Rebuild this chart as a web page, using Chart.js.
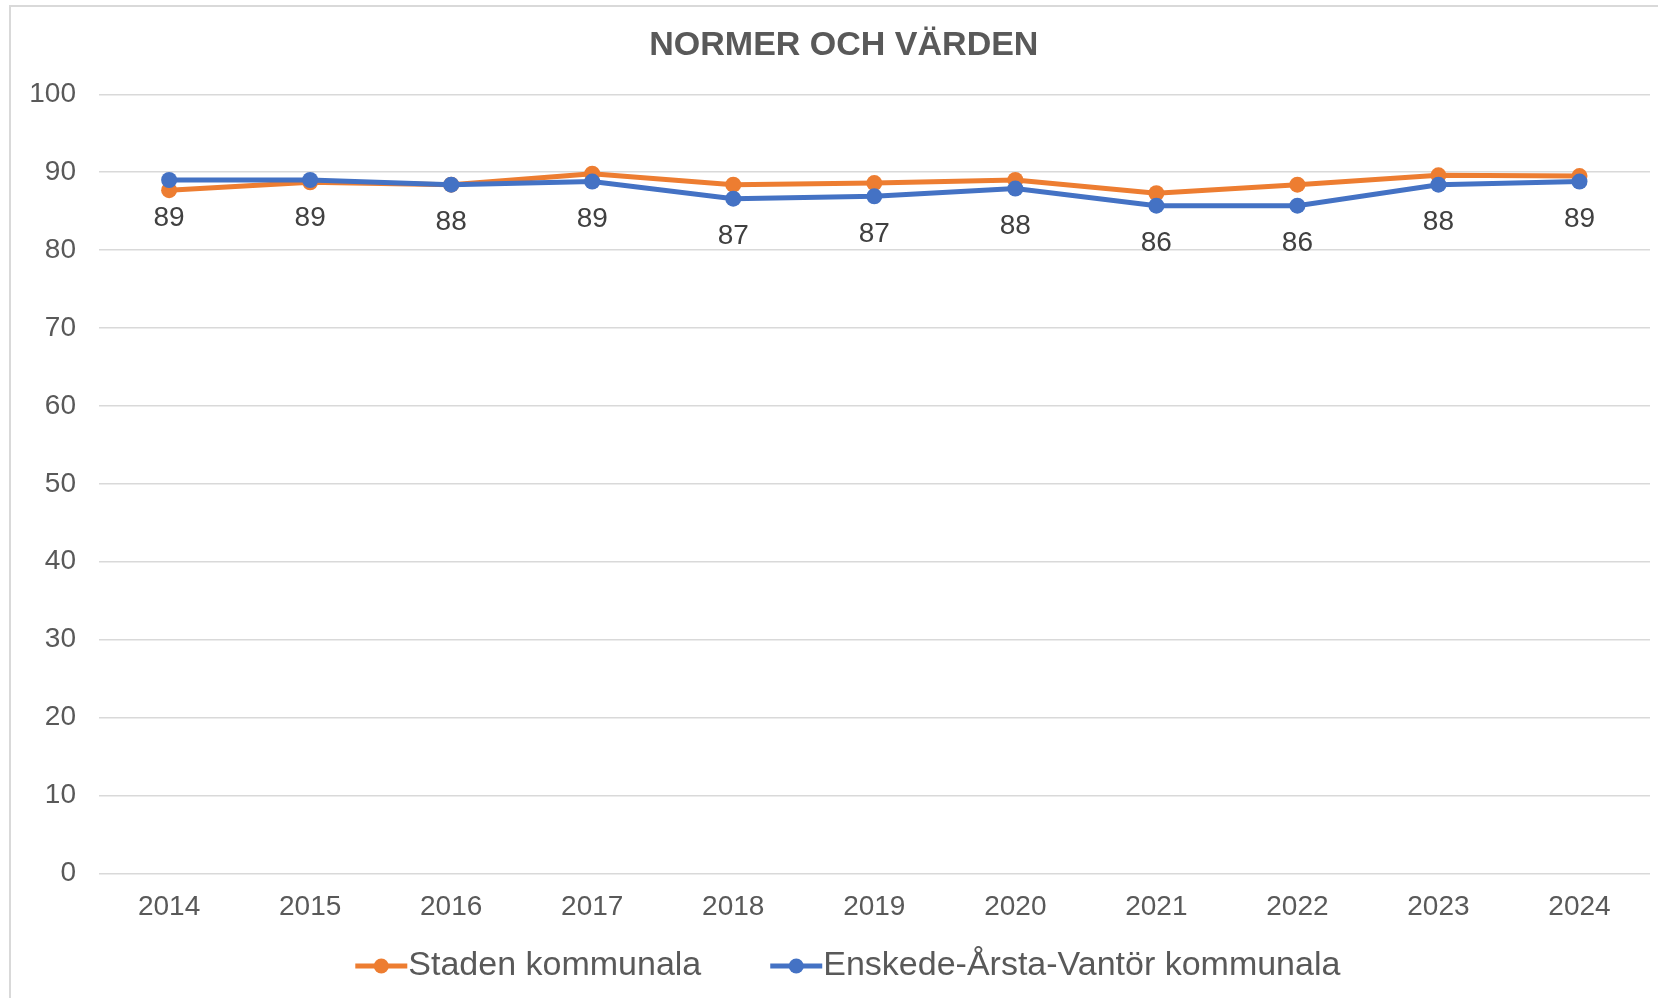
<!DOCTYPE html>
<html lang="sv">
<head>
    <meta charset="UTF-8">
    <title>Normer och värden</title>
    <script src="https://cdn.jsdelivr.net/npm/chart.js"></script>
    <style>
        html, body {
            margin: 0;
            padding: 0;
            width: 1658px;
            height: 998px;
            overflow: hidden;
            background: #fff;
        }

        /* thin grey frame round the chart, right and bottom fall outside the window */
        .frame {
            position: absolute;
            left: 9px;
            top: 5px;
            width: 1700px;
            height: 1100px;
            border: 2px solid #d9d9d9;
        }

        .chart-box {
            position: absolute;
            left: 0;
            top: 0;
            width: 1658px;
            height: 998px;
        }
    </style>
</head>
<body>
    <div class="frame"></div>
    <div class="chart-box">
        <canvas id="normer-chart"></canvas>
    </div>

    <script>
        // Data
        const years = ['2014', '2015', '2016', '2017', '2018', '2019', '2020', '2021', '2022', '2023', '2024'];
        const stadenValues = [87.7, 88.7, 88.4, 89.8, 88.4, 88.6, 89.0, 87.3, 88.4, 89.6, 89.5];
        const evValues = [89.0, 89.0, 88.4, 88.8, 86.6, 86.9, 87.9, 85.7, 85.7, 88.4, 88.8];
        const seriesNames = ['Staden kommunala', 'Enskede-Årsta-Vantör kommunala'];
        const yTicks = [0, 10, 20, 30, 40, 50, 60, 70, 80, 90, 100];

        const ORANGE = '#ED7D31';
        const BLUE = '#4472C4';
        const TEXT = '#595959';
        const FONT = '"Liberation Sans", Arial, sans-serif';

        // Title sits a little right of the canvas centre in the original
        const titleShift = {
            id: 'titleShift',
            afterLayout(chart) {
                chart.titleBlock.left += 8;
                chart.titleBlock.right += 8;
            }
        };

        // Value labels under the blue series (Excel style "below")
        const valueLabels = {
            id: 'valueLabels',
            afterDatasetsDraw(chart) {
                const ctx = chart.ctx;
                const meta = chart.getDatasetMeta(1);
                const data = chart.data.datasets[1].data;
                ctx.save();
                ctx.font = '28px ' + FONT;
                ctx.fillStyle = '#404040';
                ctx.textAlign = 'center';
                ctx.textBaseline = 'middle';
                meta.data.forEach((pt, i) => {
                    ctx.fillText(String(Math.round(data[i])), pt.x, pt.y + 38);
                });
                ctx.restore();
            }
        };

        // Legend with line + dot symbols, drawn under the axis
        const lineLegend = {
            id: 'lineLegend',
            afterDraw(chart) {
                const ctx = chart.ctx;
                const sets = chart.data.datasets;
                const symW = 52, gapText = 1, gapItem = 69;
                ctx.save();
                ctx.font = '34px ' + FONT;
                const widths = sets.map(ds => symW + gapText + ctx.measureText(ds.label).width);
                const total = widths.reduce((a, b) => a + b, 0) + gapItem * (sets.length - 1);
                const center = chart.titleBlock.left + chart.titleBlock.width / 2 + 4;
                const y = 966;
                let x = center - total / 2;
                sets.forEach((ds, i) => {
                    ctx.strokeStyle = ds.borderColor;
                    ctx.lineWidth = 5;
                    ctx.beginPath();
                    ctx.moveTo(x, y);
                    ctx.lineTo(x + symW, y);
                    ctx.stroke();
                    ctx.fillStyle = ds.borderColor;
                    ctx.beginPath();
                    ctx.arc(x + symW / 2, y, 7.5, 0, Math.PI * 2);
                    ctx.fill();
                    ctx.fillStyle = TEXT;
                    ctx.textAlign = 'left';
                    ctx.textBaseline = 'middle';
                    ctx.fillText(ds.label, x + symW + gapText, y);
                    x += widths[i] + gapItem;
                });
                ctx.restore();
            }
        };

        const ctx = document.getElementById('normer-chart').getContext('2d');
        const normerChart = new Chart(ctx, {
            type: 'line',
            data: {
                labels: years,
                datasets: [{
                    label: seriesNames[0],
                    data: stadenValues,
                    borderColor: ORANGE,
                    backgroundColor: ORANGE,
                    pointBackgroundColor: ORANGE,
                    borderWidth: 5,
                    pointRadius: 8,
                    pointBorderWidth: 0,
                    order: 1,
                    fill: false
                },
                {
                    label: seriesNames[1],
                    data: evValues,
                    borderColor: BLUE,
                    backgroundColor: BLUE,
                    pointBackgroundColor: BLUE,
                    borderWidth: 5,
                    pointRadius: 8,
                    pointBorderWidth: 0,
                    order: 0,
                    fill: false
                }]
            },
            options: {
                responsive: true,
                maintainAspectRatio: false,
                animation: false,
                layout: {
                    padding: { left: 20, right: 6.3, top: 0, bottom: 76 }
                },
                scales: {
                    x: {
                        offset: true,
                        afterFit(scale) { scale.height = 48.6; },
                        grid: { display: false, drawTicks: false },
                        border: { display: false },
                        ticks: {
                            color: TEXT,
                            font: { family: FONT, size: 28 },
                            padding: 17,
                            maxRotation: 0
                        }
                    },
                    y: {
                        min: 0,
                        max: 100,
                        afterFit(scale) { scale.width = 78.6; },
                        afterBuildTicks(scale) { scale.ticks = yTicks.map(v => ({ value: v })); },
                        grid: { color: '#d9d9d9', lineWidth: 1.5, drawTicks: false },
                        border: { display: false },
                        ticks: {
                            color: TEXT,
                            font: { family: FONT, size: 28 },
                            padding: 22.6
                        }
                    }
                },
                plugins: {
                    legend: { display: false },
                    tooltip: { enabled: false },
                    title: {
                        display: true,
                        text: 'NORMER OCH VÄRDEN',
                        color: TEXT,
                        font: { family: FONT, size: 34, weight: 'bold' },
                        padding: { top: 25.5, bottom: 28 }
                    }
                }
            },
            plugins: [titleShift, valueLabels, lineLegend]
        });
    </script>
</body>
</html>
